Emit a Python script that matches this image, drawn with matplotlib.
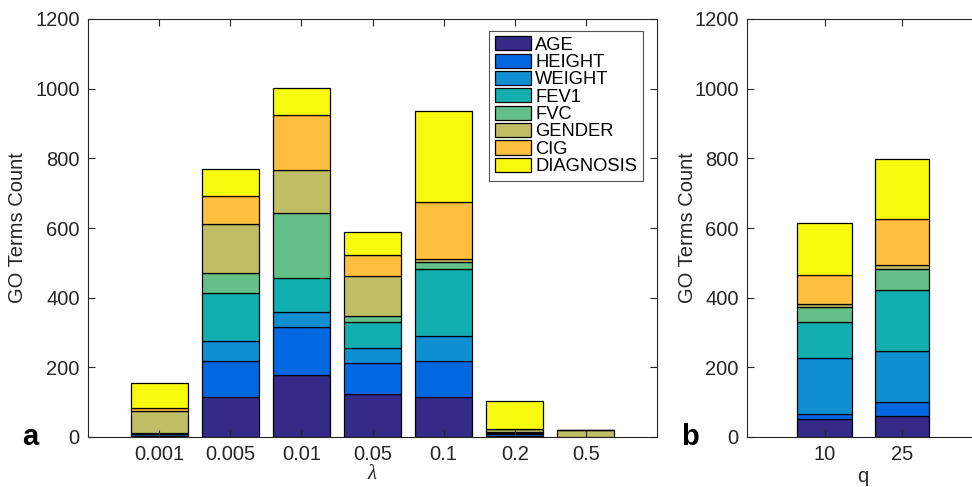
import matplotlib
matplotlib.use("Agg")
import matplotlib.pyplot as plt
import numpy as np

plt.rcParams['font.family'] = ['Liberation Sans', 'DejaVu Sans']
plt.rcParams['mathtext.fontset'] = 'custom'
plt.rcParams['mathtext.it'] = 'Liberation Serif:italic'

series_names = ["AGE", "HEIGHT", "WEIGHT", "FEV1", "FVC", "GENDER", "CIG", "DIAGNOSIS"]
colors = ["#352a87", "#0268e1", "#108ed2", "#12aeb0", "#65bf88", "#c0bd64", "#fdbf3d", "#f8fa0e"]

lambda_labels = ["0.001", "0.005", "0.01", "0.05", "0.1", "0.2", "0.5"]
lam_AGE       = [2, 116, 177, 124, 114, 2, 0]
lam_HEIGHT    = [6, 101, 140, 88, 104, 8, 0]
lam_WEIGHT    = [2, 58, 43, 44, 73, 2, 0]
lam_FEV1      = [1, 138, 96, 73, 190, 1, 0]
lam_FVC       = [1, 57, 186, 18, 21, 1, 0]
lam_GENDER    = [64, 142, 124, 116, 10, 8, 20]
lam_CIG       = [8, 81, 159, 59, 162, 2, 0]
lam_DIAGNOSIS = [71, 75, 76, 66, 261, 80, 0]

q_labels = ["10", "25"]
q_AGE       = [51, 61]
q_HEIGHT    = [16, 39]
q_WEIGHT    = [161, 146]
q_FEV1      = [101, 176]
q_FVC       = [43, 60]
q_GENDER    = [10, 11]
q_CIG       = [84, 132]
q_DIAGNOSIS = [148, 172]

lam_data = [lam_AGE, lam_HEIGHT, lam_WEIGHT, lam_FEV1, lam_FVC, lam_GENDER, lam_CIG, lam_DIAGNOSIS]
q_data = [q_AGE, q_HEIGHT, q_WEIGHT, q_FEV1, q_FVC, q_GENDER, q_CIG, q_DIAGNOSIS]

fig = plt.figure(figsize=(9.72, 4.87), dpi=100)
ax1 = fig.add_axes([88/972, 50/487, 569/972, 418/487])
ax2 = fig.add_axes([747/972, 50/487, 232.5/972, 418/487])

def stack(ax, labels, data, width, ylabel_px):
    x = np.arange(1, len(labels) + 1)
    bottom = np.zeros(len(labels))
    handles = []
    for name, vals, c in zip(series_names, data, colors):
        vals = np.array(vals, dtype=float)
        h = ax.bar(x, vals, width, bottom=bottom, color=c, edgecolor='black',
                   linewidth=0.9, label=name)
        handles.append(h)
        bottom += vals
    ax.set_xticks(x)
    ax.set_xticklabels(labels)
    ax.set_xlim(0, len(labels) + 1)
    ax.set_ylim(0, 1200)
    ax.set_yticks(np.arange(0, 1201, 200))
    ax.tick_params(direction='in', length=5, width=0.8, labelsize=14.5,
                   top=True, right=True, colors='#262626', labelcolor='#262626', pad=6)
    for s in ax.spines.values():
        s.set_linewidth(0.8)
        s.set_color('#262626')
    ax.set_ylabel("GO Terms Count", fontsize=14.5, color='#262626')
    bb = ax.get_position()
    xa = (ylabel_px / 972 - bb.x0) / bb.width
    ax.yaxis.set_label_coords(xa, 0.5)
    ax.yaxis.label.set_va('center')
    return handles

handles = stack(ax1, lambda_labels, lam_data, 0.8, 18)
stack(ax2, q_labels, q_data, 0.7, 687)

ax1.set_xlabel(r"$\lambda$", fontsize=15, color='#262626', labelpad=0)
ax2.set_xlabel("q", fontsize=14.5, color='#262626', labelpad=2)

leg = ax1.legend(handles=handles, loc='upper left', bbox_to_anchor=((489-88)/569, (437-30.7)/418),
                 borderaxespad=0, fontsize=13.2, frameon=True, fancybox=False,
                 handlelength=2.0, handleheight=0.8, handletextpad=0.22,
                 labelspacing=0.0, borderpad=0.3, edgecolor='#262626')
leg.get_frame().set_linewidth(0.8)

fig.text(30/972, 1 - 437/487, "a", fontsize=21, fontweight='bold', ha='center', va='center')
fig.text(690/972, 1 - 437/487, "b", fontsize=21, fontweight='bold', ha='center', va='center')

fig.savefig("out.png", dpi=100)
